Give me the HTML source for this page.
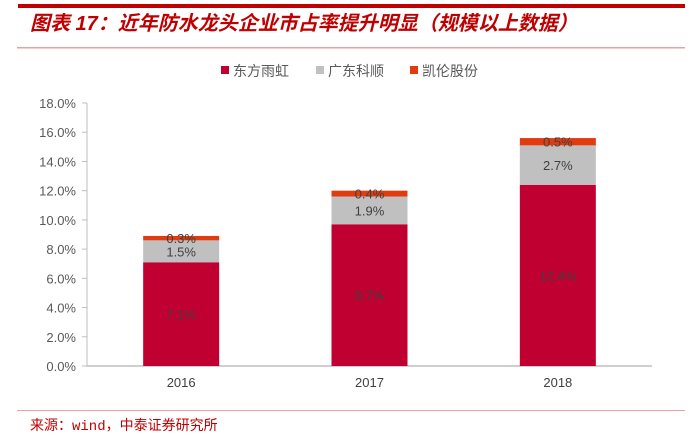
<!DOCTYPE html>
<html><head><meta charset="utf-8"><style>
body{margin:0;background:#fff;width:696px;height:436px;overflow:hidden;font-family:"Liberation Sans","Noto Sans CJK SC",sans-serif;}
</style></head><body>
<svg width="696" height="436" xmlns="http://www.w3.org/2000/svg">
<rect x="18" y="4" width="667" height="4" fill="#c00000"/>
<text x="30" y="30" font-size="20" font-style="italic" font-weight="bold" fill="#c00000" font-family="Liberation Sans, Noto Sans CJK SC, sans-serif">图表 17：近年防水龙头企业市占率提升明显（规模以上数据）</text>
<rect x="17" y="47" width="668" height="1.5" fill="#e8a0a0"/>
<g id="legend"></g>
<g id="axes"></g>
<g id="bars"></g>
<rect x="17" y="410" width="668" height="1" fill="#e8a0a0"/>
<text x="30" y="430" font-size="14" fill="#c00000" font-family="Liberation Mono, Noto Sans CJK SC, monospace">来源：wind，中泰证券研究所</text>
</svg>
<script>
const categories=["2016","2017","2018"];
const seriesNames=["东方雨虹","广东科顺","凯伦股份"];
const dfyh=[7.1,9.7,12.4];
const gdks=[1.5,1.9,2.7];
const klgf=[0.3,0.4,0.5];
const labelsA=["7.1%","9.7%","12.4%"];
const labelsB=["1.5%","1.9%","2.7%"];
const labelsC=["0.3%","0.4%","0.5%"];
const yTicks=[0,2,4,6,8,10,12,14,16,18];
const colors=["#c00030","#c0c0c0","#e03c10"];
const NS="http://www.w3.org/2000/svg";
const y0=366,yTop=103,yMax=18,xL=87,xR=652;
const y=v=>y0-(v/yMax)*(y0-yTop);
const band=(xR-xL)/categories.length;
const x=i=>xL+band*(i+0.5);
const bw=76;
function mk(tag,attrs,parent){const e=document.createElementNS(NS,tag);for(const k in attrs)e.setAttribute(k,attrs[k]);parent.appendChild(e);return e;}
const axes=document.getElementById('axes'),bars=document.getElementById('bars'),legend=document.getElementById('legend');
yTicks.forEach(t=>{
 const tk=mk('line',{x1:xL-5,x2:xL,y1:y(t),y2:y(t),stroke:'#bfbfbf'},axes);
 
 
 const tx=mk('text',{x:xL-11,y:y(t)+5,'text-anchor':'end','font-size':13,fill:'#595959'},axes);
 tx.textContent=t.toFixed(1)+'%';
 
 
});
const ya=mk('line',{x1:xL,x2:xL,y1:yTop,y2:y0,stroke:'#bfbfbf'},axes);


const xa=mk('line',{x1:xL,x2:xR,y1:y0,y2:y0,stroke:'#bfbfbf','stroke-width':1.5},axes);


const series=[dfyh,gdks,klgf],labels=[labelsA,labelsB,labelsC];
categories.forEach((c,i)=>{
 let base=0;
 series.forEach((s,j)=>{
  const r=mk('rect',{x:x(i)-bw/2,y:y(base+s[i]),width:bw,height:y(base)-y(base+s[i]),fill:colors[j]},bars);
  
  
  const mid=(y(base)+y(base+s[i]))/2;
  const t=mk('text',{x:x(i),y:mid+5,'text-anchor':'middle','font-size':13,fill:'#404040'},bars);
  t.textContent=labels[j][i];
  
  
  base+=s[i];
 });
 const xl=mk('text',{x:x(i),y:y0+21,'text-anchor':'middle','font-size':13,fill:'#404040'},axes);
 xl.textContent=c;
 
 
});
const lx=[221,316,410];
seriesNames.forEach((n,j)=>{
 const s=mk('rect',{x:lx[j],y:66,width:8,height:8,fill:colors[j]},legend);
 
 
 const t=mk('text',{x:lx[j]+12,y:76,'font-size':14,fill:'#595959'},legend);
 t.textContent=n;
 
 
});
</script>
</body></html>
